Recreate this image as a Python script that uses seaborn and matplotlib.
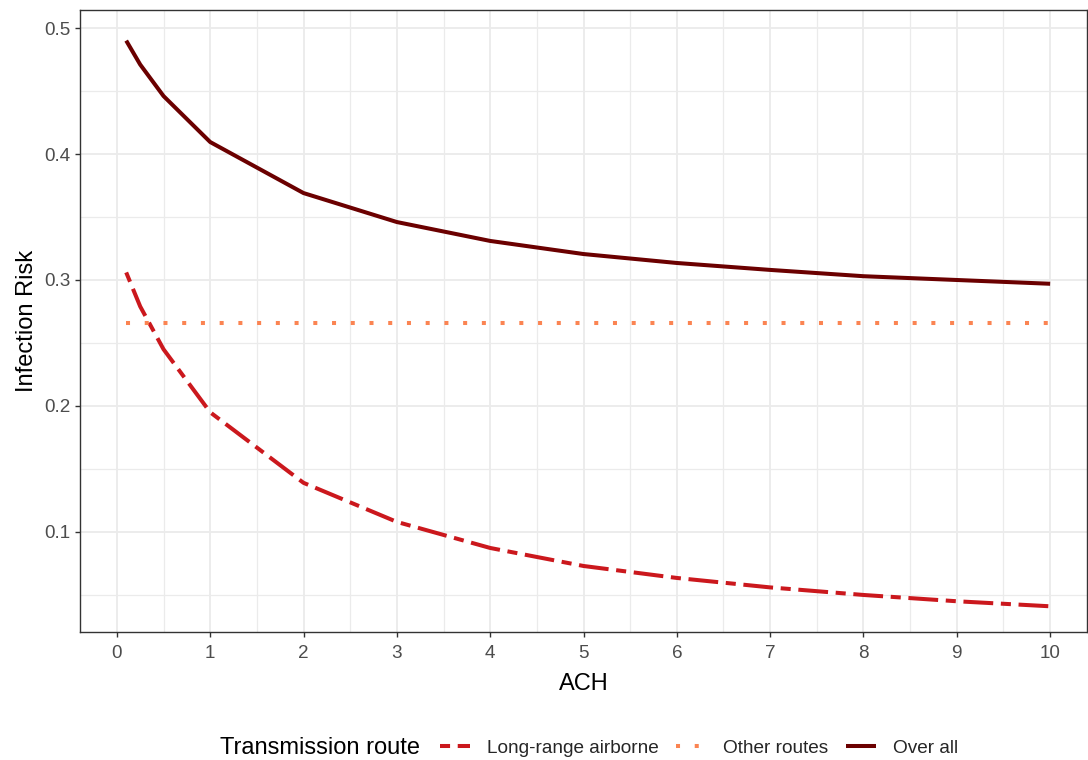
import numpy as np
import pandas as pd
import matplotlib
matplotlib.use("Agg")
import matplotlib.pyplot as plt
import seaborn as sns
from matplotlib.ticker import MultipleLocator

# ---- data ----
ach = [0.1, 0.25, 0.5, 1, 2, 3, 4, 5, 6, 7, 8, 9, 10]
long_range_airborne = [0.306, 0.279, 0.245, 0.195, 0.139, 0.108, 0.0873, 0.073,
                       0.0635, 0.056, 0.050, 0.045, 0.041]
other_routes = [0.266, 0.266, 0.266, 0.266, 0.266, 0.266, 0.266, 0.266,
                0.266, 0.266, 0.266, 0.266, 0.266]
over_all = [0.490, 0.471, 0.446, 0.4095, 0.369, 0.346, 0.331, 0.3206,
            0.3135, 0.308, 0.303, 0.300, 0.297]
routes = ["Long-range airborne", "Other routes", "Over all"]
x_ticks = [0, 1, 2, 3, 4, 5, 6, 7, 8, 9, 10]
y_ticks = [0.1, 0.2, 0.3, 0.4, 0.5]

df = pd.concat([
    pd.DataFrame({"ACH": ach, "risk": long_range_airborne, "route": routes[0]}),
    pd.DataFrame({"ACH": ach, "risk": other_routes, "route": routes[1]}),
    pd.DataFrame({"ACH": ach, "risk": over_all, "route": routes[2]}),
], ignore_index=True)

sns.set_theme(style="white")
plt.rcParams["font.family"] = ["Liberation Sans", "DejaVu Sans"]
plt.rcParams["lines.solid_capstyle"] = "butt"
plt.rcParams["lines.dash_capstyle"] = "butt"

W, H = 1088, 760
fig = plt.figure(figsize=(W / 100, H / 100), dpi=100)
fig.patch.set_facecolor("white")
ax = fig.add_axes([80 / W, 1 - 632 / H, (1087 - 80) / W, (632 - 10) / H])

palette = {routes[0]: "#CB181D", routes[1]: "#FB8452", routes[2]: "#6B0000"}
dashes = {routes[0]: (2.5, 1.9, 7.4, 1.9), routes[1]: (1, 3.65), routes[2]: ""}

sns.lineplot(data=df, x="ACH", y="risk", hue="route", style="route",
             hue_order=routes, style_order=routes, palette=palette,
             dashes=dashes, linewidth=2.9, estimator=None, sort=True,
             legend=False, ax=ax)

ax.set_xlim(-0.395, 10.395)
ax.set_ylim(0.0206, 0.5143)
ax.set_xticks(x_ticks)
ax.set_xticklabels([str(t) for t in x_ticks])
ax.set_yticks(y_ticks)
ax.set_yticklabels([f"{t:.1f}" for t in y_ticks])
ax.xaxis.set_minor_locator(MultipleLocator(0.5))
ax.yaxis.set_minor_locator(MultipleLocator(0.05))

ax.grid(True, which="major", color="#EBEBEB", linewidth=1.3)
ax.grid(True, which="minor", color="#EBEBEB", linewidth=0.9)
ax.set_axisbelow(True)
for s in ax.spines.values():
    s.set_visible(True)
    s.set_color("#333333")
    s.set_linewidth(1.0)

ax.tick_params(axis="both", which="major", length=3.6, width=1.0, color="#333333",
               labelsize=13.6, labelcolor="#4D4D4D", bottom=True, left=True)
ax.tick_params(axis="x", which="major", pad=6)
ax.tick_params(axis="y", which="major", pad=3)
ax.tick_params(axis="both", which="minor", length=0)

ax.set_xlabel("ACH", fontsize=17, color="black", labelpad=8)
ax.set_ylabel("Infection Risk", fontsize=17, color="black", labelpad=5)

handles = ax.get_lines()[:3]
fig.legend(handles, routes, loc="center left",
           bbox_to_anchor=(440 / W, 1 - 748 / H), ncol=3, frameon=False,
           fontsize=13.7, handlelength=1.58, handletextpad=0.9,
           columnspacing=0.9, borderpad=0, borderaxespad=0)
fig.text(220 / W, 1 - 748 / H, "Transmission route", fontsize=17,
         ha="left", va="center", color="black")

fig.savefig("out.png", dpi=100, facecolor="white")
